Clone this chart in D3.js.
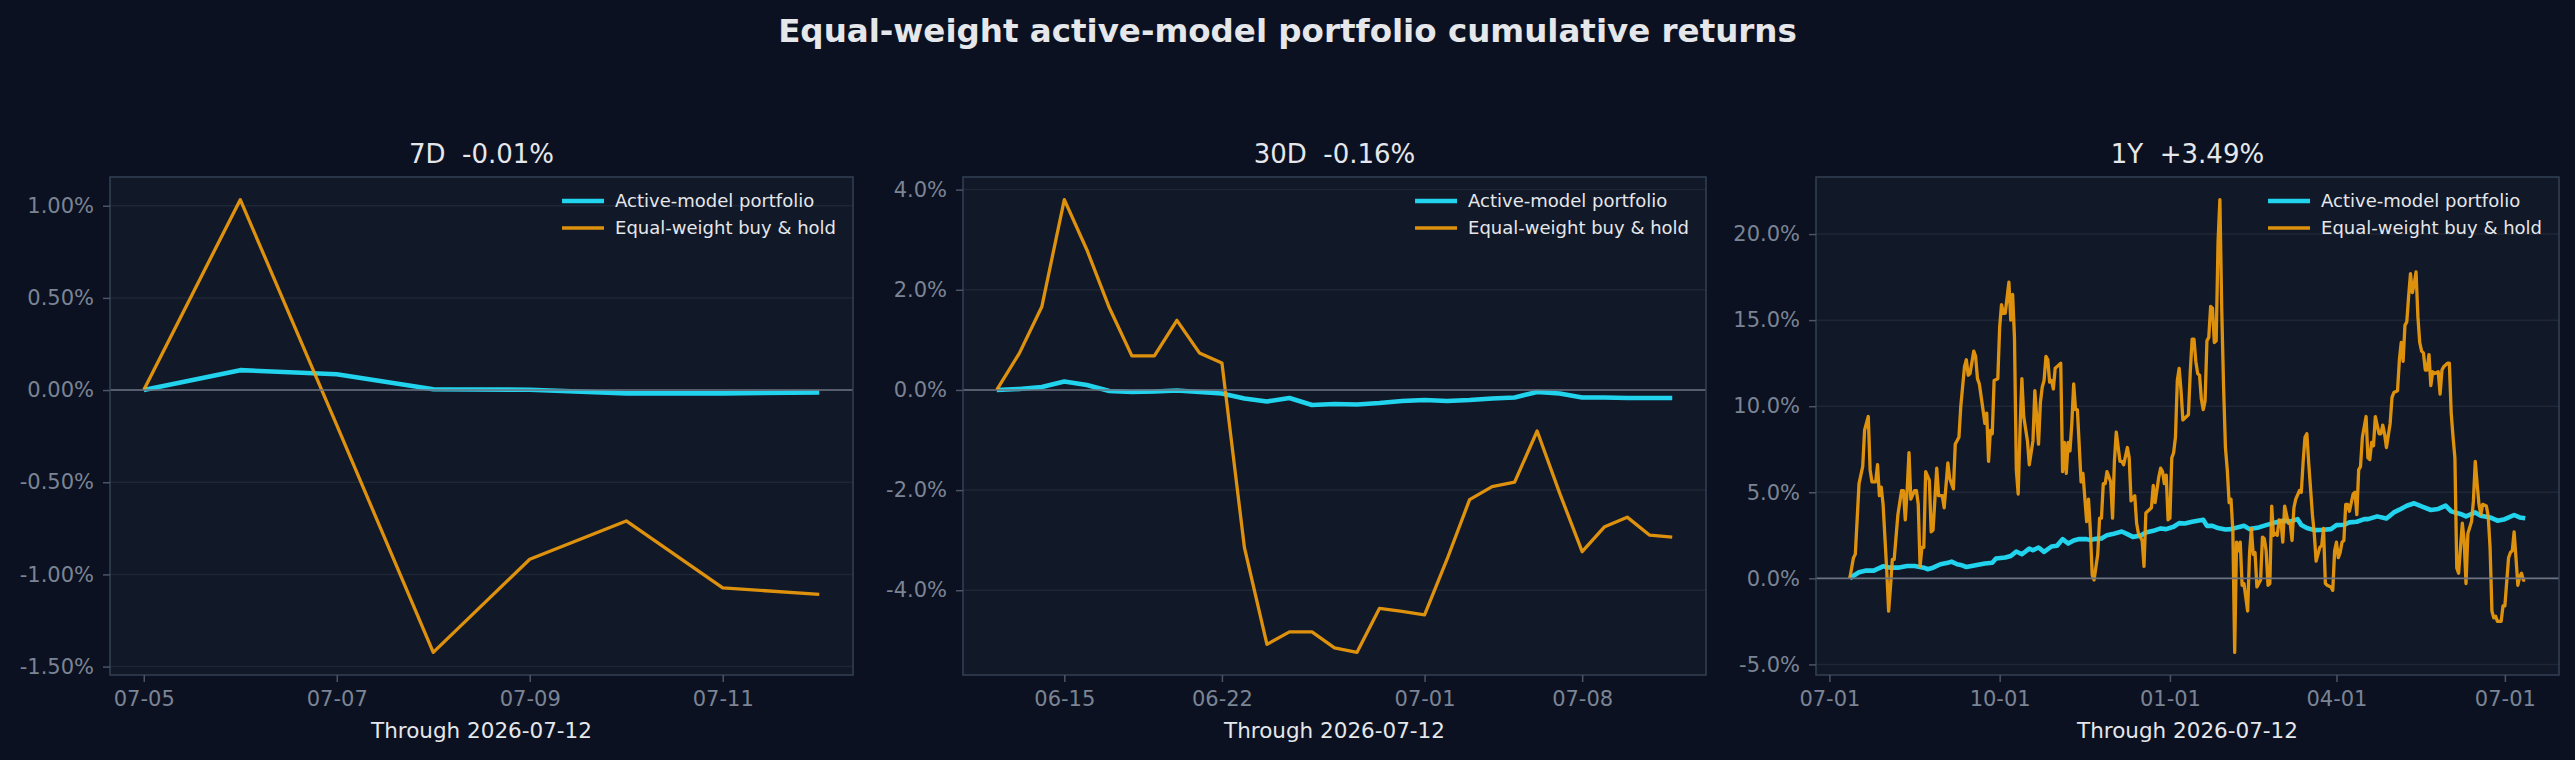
<!DOCTYPE html>
<html>
<head>
<meta charset="utf-8">
<script src="https://cdn.jsdelivr.net/npm/d3@7"></script>
<style>
  html, body { margin: 0; padding: 0; background: #0b1120; }
  svg text { font-family: "DejaVu Sans", sans-serif; }
</style>
</head>
<body>
<svg id="chart" width="2575" height="760"></svg>
<script>
// ---- data (cumulative return, %) ----
var seriesNames = ["Active-model portfolio", "Equal-weight buy & hold"];
var panelTitles = ["7D  -0.01%", "30D  -0.16%", "1Y  +3.49%"];
var xLabel = "Through 2026-07-12";

var weekDates = ["2026-07-05", "2026-07-06", "2026-07-07", "2026-07-08",
    "2026-07-09", "2026-07-10", "2026-07-11", "2026-07-12"];
var weekActive = [0, 0.108, 0.086, 0.004, 0.002, -0.018, -0.018, -0.013];
var weekEqual = [0, 1.033, -0.19, -1.423, -0.918, -0.71, -1.073, -1.108];

var monthDates = ["2026-06-12", "2026-06-13", "2026-06-14", "2026-06-15", "2026-06-16",
    "2026-06-17", "2026-06-18", "2026-06-19", "2026-06-20", "2026-06-21", "2026-06-22",
    "2026-06-23", "2026-06-24", "2026-06-25", "2026-06-26", "2026-06-27", "2026-06-28",
    "2026-06-29", "2026-06-30", "2026-07-01", "2026-07-02", "2026-07-03", "2026-07-04",
    "2026-07-05", "2026-07-06", "2026-07-07", "2026-07-08", "2026-07-09", "2026-07-10",
    "2026-07-11", "2026-07-12"];
var monthActive = [0, 0.02, 0.06, 0.17, 0.10, -0.02, -0.04, -0.03, -0.01, -0.04, -0.07,
    -0.17, -0.23, -0.16, -0.30, -0.28, -0.29, -0.26, -0.22, -0.20, -0.22, -0.20, -0.17,
    -0.15, -0.04, -0.07, -0.15, -0.15, -0.16, -0.16, -0.16];
var monthEqual = [0, 0.73, 1.66, 3.80, 2.80, 1.64, 0.68, 0.68, 1.39, 0.74, 0.54,
    -3.15, -5.08, -4.83, -4.83, -5.15, -5.24, -4.36, -4.42, -4.49, -3.38, -2.19, -1.93,
    -1.84, -0.82, -2.06, -3.23, -2.73, -2.54, -2.90, -2.94];

// 1Y: [days since yearStart, value]
var yearStart = "2025-07-12";
var yearActive = [[0,0],[2,0.15],[5,0.35],[9,0.45],[13,0.45],[15,0.55],[18,0.7],[22,0.62],
    [26,0.62],[31,0.72],[35,0.72],[40,0.62],[42,0.53],[45,0.62],[49,0.82],[53,0.91],[55,0.97],
    [58,0.82],[60,0.78],[63,0.66],[68,0.76],[73,0.86],[77,0.91],[79,1.15],[84,1.21],[87,1.30],
    [90,1.56],[93,1.40],[97,1.73],[99,1.63],[102,1.79],[105,1.54],[109,1.85],[112,1.89],
    [115,2.28],[118,2.02],[121,2.2],[124,2.28],[128,2.28],[130,2.22],[132,2.28],[136,2.32],
    [139,2.51],[142,2.57],[147,2.72],[150,2.57],[153,2.41],[157,2.47],[160,2.67],[164,2.76],
    [168,2.90],[171,2.86],[175,3.00],[178,3.21],[181,3.19],[185,3.29],[188,3.35],[191,3.40],
    [193,3.05],[196,3.05],[199,2.92],[203,2.84],[206,2.86],[213,3.05],[216,2.86],[221,2.96],
    [225,3.09],[230,3.25],[234,3.35],[238,3.31],[242,3.44],[244,3.1],[247,2.92],[251,2.80],
    [256,2.82],[260,2.86],[263,3.09],[267,3.11],[270,3.25],[274,3.29],[278,3.44],[280,3.44],
    [285,3.60],[290,3.48],[294,3.83],[297,3.99],[301,4.22],[305,4.36],[309,4.18],[314,3.97],
    [318,4.03],[322,4.22],[325,3.89],[330,3.74],[333,3.60],[338,3.83],[341,3.64],[346,3.54],
    [350,3.35],[354,3.44],[359,3.68],[362,3.54],[365,3.49]];
var yearEqual = [[0,0.0],[2,1.2],[3,1.4],[5,5.5],[7,6.5],[8,8.6],[10,9.4],[11,6.3],[12,5.6],
    [14,5.6],[15,6.6],[16,4.8],[17,5.3],[18,4.3],[20,0.4],[21,-1.9],[22,-0.5],[23,1.1],[24,1.1],
    [26,3.7],[28,5.1],[29,5.1],[30,3.4],[31,5.1],[32,7.3],[33,4.6],[35,5.1],[36,5.1],[37,4.3],
    [38,0.7],[39,1.8],[40,1.8],[41,6.2],[43,5.7],[44,2.7],[45,2.8],[47,6.4],[48,4.8],[50,4.8],
    [51,4.1],[53,6.7],[54,5.8],[56,5.2],[57,7.8],[59,8.2],[60,10.0],[62,12.3],[63,12.7],
    [64,11.8],[65,11.9],[67,13.2],[68,12.9],[69,11.6],[70,11.3],[72,9.8],[73,9.0],[74,9.6],
    [75,6.8],[76,8.6],[77,8.4],[78,11.5],[80,11.6],[81,14.6],[82,15.9],[83,15.4],[84,15.4],
    [86,17.2],[87,15.0],[88,16.5],[89,14.0],[90,6.3],[91,4.9],[92,8.6],[93,11.6],[94,9.4],
    [96,8.0],[97,6.6],[99,8.0],[100,10.9],[101,9.4],[102,7.8],[103,10.2],[104,11.1],[105,11.5],
    [106,12.9],[107,12.7],[108,11.4],[109,11.5],[110,11.0],[111,12.2],[112,12.3],[114,12.5],
    [115,6.2],[116,7.9],[117,6.1],[118,7.9],[119,7.4],[120,9.0],[121,11.3],[122,9.8],[123,9.8],
    [125,5.6],[126,6.1],[128,3.3],[129,4.6],[130,2.8],[131,0.2],[132,-0.1],[134,1.4],[135,3.5],
    [136,3.5],[137,5.5],[138,5.5],[139,6.2],[141,5.6],[142,3.5],[143,6.8],[144,8.5],[146,6.8],
    [147,6.8],[148,6.6],[150,7.6],[151,7.0],[152,4.5],[154,4.8],[155,3.2],[156,2.6],[158,2.2],
    [159,0.7],[160,3.8],[161,3.9],[163,4.1],[164,5.4],[165,4.4],[167,5.9],[168,6.4],[169,6.2],
    [170,5.5],[171,6.0],[172,3.4],[173,3.5],[174,7.0],[175,7.3],[176,8.2],[177,11.5],[178,12.2],
    [179,10.9],[180,9.2],[181,9.3],[182,9.4],[183,9.5],[184,12.0],[185,13.9],[186,13.9],
    [187,12.6],[188,11.9],[189,11.8],[190,10.4],[191,9.8],[192,10.3],[193,13.8],[194,14.0],
    [195,15.8],[196,15.7],[197,13.7],[198,13.8],[199,19.5],[200,22.0],[201,15.6],[202,11.1],
    [203,7.6],[204,6.3],[205,4.4],[206,4.6],[207,2.8],[208,-4.3],[209,2.1],[210,1.6],[211,2.1],
    [212,-0.4],[213,-0.3],[215,-1.9],[216,1.4],[217,2.9],[218,1.4],[219,1.5],[220,-0.5],
    [221,-0.3],[222,-0.1],[223,2.4],[224,2.3],[225,1.6],[226,-0.4],[227,-0.3],[228,4.2],
    [229,2.5],[230,2.6],[231,2.5],[232,3.4],[233,3.3],[234,2.1],[235,4.2],[237,3.2],[238,3.2],
    [239,2.2],[240,4.1],[241,4.6],[243,5.1],[244,5.0],[245,6.8],[246,8.2],[247,8.4],[248,6.7],
    [250,3.7],[251,2.6],[252,1.0],[254,1.8],[255,1.9],[256,2.9],[257,-0.3],[258,-0.4],[260,-0.5],
    [261,-0.7],[262,1.6],[263,2.1],[264,1.2],[265,1.5],[266,2.1],[267,2.2],[268,4.3],[269,4.3],
    [270,3.9],[272,4.9],[273,5.0],[274,3.7],[275,6.3],[276,6.5],[277,8.2],[279,9.4],[280,7.0],
    [281,6.9],[282,7.9],[283,7.7],[284,9.4],[286,8.4],[287,8.4],[288,8.9],[289,8.4],[290,7.6],
    [292,9.0],[293,10.5],[294,10.8],[296,10.9],[297,12.7],[298,13.7],[299,12.6],[300,14.7],
    [301,14.9],[302,16.4],[303,17.7],[304,16.6],[305,17.1],[306,17.8],[307,15.2],[308,13.7],
    [309,13.2],[310,13.1],[311,12.1],[312,12.1],[313,13.0],[314,11.2],[315,12.0],[316,11.9],
    [318,12.0],[319,10.7],[320,12.1],[321,12.3],[323,12.5],[324,12.5],[325,9.6],[326,8.2],
    [327,7.0],[328,0.6],[329,0.3],[331,3.2],[332,2.2],[333,-0.3],[334,2.6],[336,3.3],[337,4.5],
    [338,6.8],[339,5.5],[340,4.3],[341,3.7],[342,4.3],[344,4.2],[345,3.6],[346,1.8],[347,-1.9],
    [348,-2.3],[349,-2.2],[350,-2.5],[352,-2.5],[353,-1.6],[354,-1.6],[355,-0.2],[356,1.2],
    [357,1.5],[358,1.6],[359,2.7],[360,1.2],[361,-0.4],[362,0.1],[363,0.3],[364,-0.1],[365,-0.1]];

var weekTicksY = [-1.5, -1.0, -0.5, 0, 0.5, 1.0];
var monthTicksY = [-4, -2, 0, 2, 4];
var yearTicksY = [-5, 0, 5, 10, 15, 20];
var weekTicksX = ["2026-07-05", "2026-07-07", "2026-07-09", "2026-07-11"];
var monthTicksX = ["2026-06-15", "2026-06-22", "2026-07-01", "2026-07-08"];
var yearTicksX = ["2025-07-01", "2025-10-01", "2026-01-01", "2026-04-01", "2026-07-01"];

// ---- layout ----
var width = 2575, height = 760;
var plotTop = 177, plotW = 743, plotH = 498;
var panelLefts = [110, 963, 1816];
var activeColor = "#22d3ee", equalColor = "#f59e0b";

var svg = d3.select("#chart");
svg.append("rect").attr("width", width).attr("height", height).attr("fill", "#0b1120");

svg.append("text")
    .attr("x", width / 2).attr("y", 42)
    .attr("text-anchor", "middle")
    .attr("font-size", 32.5).attr("font-weight", "bold")
    .attr("fill", "#e5e7eb")
    .text("Equal-weight active-model portfolio cumulative returns");

var parseDay = d3.utcParse("%Y-%m-%d");

function zipSeries(dates, values) {
    return dates.map(function(d, i) {
        return { date: parseDay(d), value: values[i] };
    });
}

function offsetSeries(pairs) {
    var start = parseDay(yearStart);
    return pairs.map(function(p) {
        return { date: d3.utcDay.offset(start, p[0]), value: p[1] };
    });
}

// matplotlib-style 5% margins
function padded(ext) {
    var span = ext[1] - ext[0];
    return [ext[0] - span * 0.05, ext[1] + span * 0.05];
}

function drawPanel(p) {
    var g = svg.append("g").attr("transform", `translate(${p.left},${plotTop})`);
    var all = p.active.concat(p.equal);

    var x = d3.scaleUtc()
        .domain(padded(d3.extent(all, function(d) { return +d.date; })).map(function(v) { return new Date(v); }))
        .range([0, plotW]);
    var y = d3.scaleLinear()
        .domain(padded(d3.extent(all, function(d) { return d.value; })))
        .range([plotH, 0]);

    g.append("rect").attr("width", plotW).attr("height", plotH).attr("fill", "#111827");

    g.append("g").selectAll("line")
        .data(p.yTicks)
        .enter().append("line")
        .attr("x1", 0).attr("x2", plotW)
        .attr("y1", function(d) { return y(d); })
        .attr("y2", function(d) { return y(d); })
        .attr("stroke", "#1f2736")
        .attr("stroke-width", 1.5);

    var line = d3.line()
        .x(function(d) { return x(d.date); })
        .y(function(d) { return y(d.value); });

    g.append("path").datum(p.active)
        .attr("d", line)
        .attr("fill", "none")
        .attr("stroke", activeColor)
        .attr("stroke-width", 4.6)
        .attr("stroke-linejoin", "round");

    g.append("path").datum(p.equal)
        .attr("d", line)
        .attr("fill", "none")
        .attr("stroke", equalColor)
        .attr("stroke-opacity", 0.9)
        .attr("stroke-width", 3.3)
        .attr("stroke-linejoin", "round");

    g.append("line")
        .attr("x1", 0).attr("x2", plotW)
        .attr("y1", y(0)).attr("y2", y(0))
        .attr("stroke", "#6b7280")
        .attr("stroke-width", 1.6);

    g.append("rect")
        .attr("width", plotW).attr("height", plotH)
        .attr("fill", "none")
        .attr("stroke", "#334155")
        .attr("stroke-width", 1.5);

    var yAxis = g.append("g")
        .call(d3.axisLeft(y).tickValues(p.yTicks).tickFormat(p.yFormat).tickSize(7).tickPadding(9));
    var xAxis = g.append("g")
        .attr("transform", `translate(0,${plotH})`)
        .call(d3.axisBottom(x).tickValues(p.xTicks.map(parseDay)).tickFormat(d3.utcFormat("%m-%d")).tickSize(7).tickPadding(9));

    [yAxis, xAxis].forEach(function(ax) {
        ax.select(".domain").remove();
        ax.selectAll(".tick line").attr("stroke", "#4b5565").attr("stroke-width", 1.5);
        ax.selectAll(".tick text")
            .attr("fill", "#7b8494")
            .attr("font-size", 21)
            .attr("font-family", "DejaVu Sans");
    });

    g.append("text")
        .attr("x", plotW / 2).attr("y", 163 - plotTop)
        .attr("text-anchor", "middle")
        .attr("font-size", 26)
        .attr("fill", "#e5e7eb")
        .style("white-space", "pre")
        .text(p.title);

    g.append("text")
        .attr("x", plotW / 2).attr("y", 738 - plotTop)
        .attr("text-anchor", "middle")
        .attr("font-size", 21.5)
        .attr("fill", "#e5e7eb")
        .text(xLabel);

    // legend, top right inside the axes
    var legend = g.append("g");
    var labels = legend.selectAll("text")
        .data(seriesNames)
        .enter().append("text")
        .attr("font-size", 18)
        .attr("fill", "#e5e7eb")
        .attr("dy", "0.35em")
        .attr("y", function(d, i) { return 24 + i * 27; })
        .text(function(d) { return d; });
    var maxLen = d3.max(labels.nodes(), function(n) { return n.getComputedTextLength(); });
    var textX = plotW - 17 - maxLen;
    labels.attr("x", textX);
    legend.selectAll("line")
        .data([activeColor, equalColor])
        .enter().append("line")
        .attr("x1", textX - 53).attr("x2", textX - 11)
        .attr("y1", function(d, i) { return 24 + i * 27; })
        .attr("y2", function(d, i) { return 24 + i * 27; })
        .attr("stroke", function(d) { return d; })
        .attr("stroke-opacity", function(d, i) { return i ? 0.9 : 1; })
        .attr("stroke-width", function(d, i) { return i ? 3.3 : 4.6; });
}

drawPanel({
    left: panelLefts[0], title: panelTitles[0],
    active: zipSeries(weekDates, weekActive), equal: zipSeries(weekDates, weekEqual),
    yTicks: weekTicksY, yFormat: function(v) { return v.toFixed(2) + "%"; }, xTicks: weekTicksX
});
drawPanel({
    left: panelLefts[1], title: panelTitles[1],
    active: zipSeries(monthDates, monthActive), equal: zipSeries(monthDates, monthEqual),
    yTicks: monthTicksY, yFormat: function(v) { return v.toFixed(1) + "%"; }, xTicks: monthTicksX
});
drawPanel({
    left: panelLefts[2], title: panelTitles[2],
    active: offsetSeries(yearActive), equal: offsetSeries(yearEqual),
    yTicks: yearTicksY, yFormat: function(v) { return v.toFixed(1) + "%"; }, xTicks: yearTicksX
});
</script>
</body>
</html>
